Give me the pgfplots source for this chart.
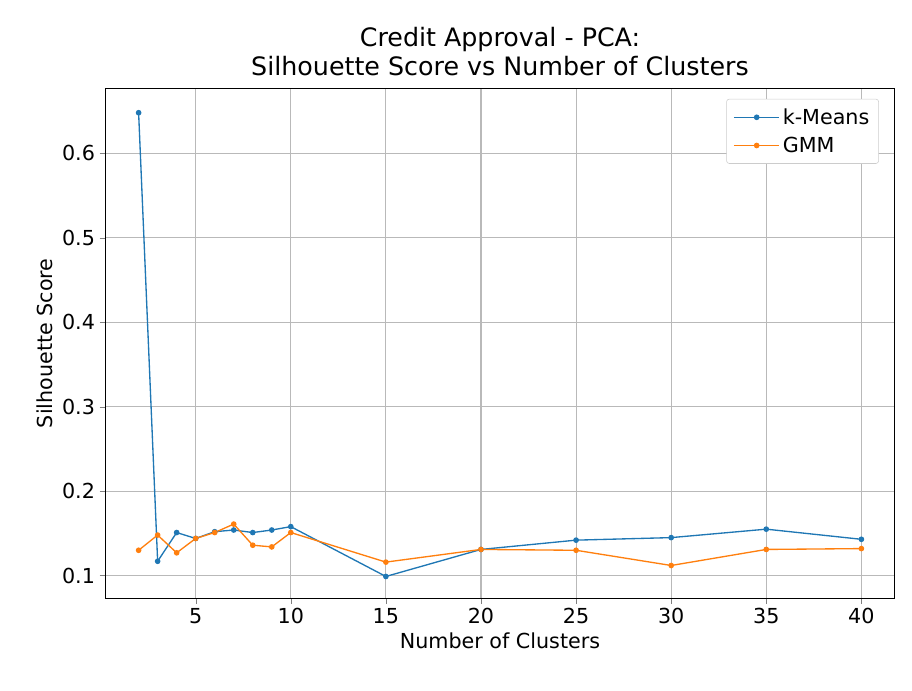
\documentclass[border=0pt]{standalone}
\usepackage{pgfplots}
\pgfplotsset{compat=1.18}
\usepackage{fontspec}
\setmainfont{DejaVu Sans}
\begin{document}
\begin{tikzpicture}
\useasboundingbox (-79pt,-69pt) rectangle (605pt,448.5pt);
\begin{axis}[
  scale only axis, width=592pt, height=382pt,
  xmin=0.25, xmax=41.75, ymin=0.0735, ymax=0.6765,
  xtick={5,10,15,20,25,30,35,40},
  ytick={0.1,0.2,0.3,0.4,0.5,0.6},
  /pgf/number format/assume math mode=true,
  yticklabel style={/pgf/number format/fixed,/pgf/number format/precision=1},
  tick label style={font=\fontsize{15.5}{18}\selectfont},
  label style={font=\fontsize{15.5}{18}\selectfont},
  grid=major, grid style={gray!55, line width=0.8pt},
  tick align=outside, tick pos=left,
  xlabel={Number of Clusters}, ylabel={Silhouette Score},
  title={Credit Approval - PCA:\\Silhouette Score vs Number of Clusters},
  title style={font=\fontsize{19}{22}\selectfont, align=center},
  legend style={at={(0.98,0.98)}, anchor=north east, font=\fontsize{15.5}{20}\selectfont, draw=gray!40, rounded corners=2pt, row sep=4pt, inner sep=5pt},
  legend cell align=left,
  legend image code/.code={\draw[mark repeat=2,mark phase=2,#1] plot coordinates {(0cm,0cm)(0.6cm,0cm)(1.2cm,0cm)};},
]
\addplot[color={rgb,255:red,31;green,119;blue,180}, line width=1pt, mark=*, mark size=1.6pt] coordinates {
(2,0.648)(3,0.117)(4,0.151)(5,0.144)(6,0.152)(7,0.154)(8,0.151)(9,0.154)(10,0.158)
(15,0.099)(20,0.131)(25,0.142)(30,0.145)(35,0.155)(40,0.143)};
\addlegendentry{k-Means}
\addplot[color={rgb,255:red,255;green,127;blue,14}, line width=1pt, mark=*, mark size=1.6pt] coordinates {
(2,0.130)(3,0.148)(4,0.127)(5,0.144)(6,0.151)(7,0.161)(8,0.136)(9,0.134)(10,0.151)
(15,0.116)(20,0.131)(25,0.130)(30,0.112)(35,0.131)(40,0.132)};
\addlegendentry{GMM}
\end{axis}
\end{tikzpicture}
\end{document}
